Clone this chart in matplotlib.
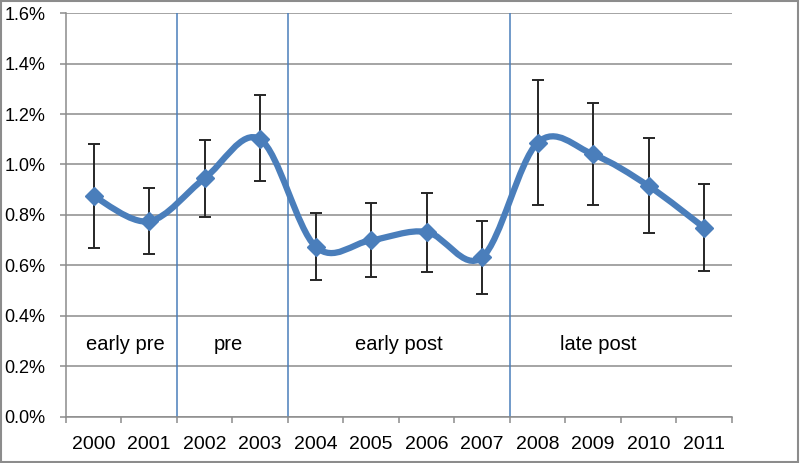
import matplotlib as mpl
mpl.use('Agg')
import matplotlib.pyplot as plt
import numpy as np
from matplotlib.path import Path
from matplotlib.patches import PathPatch, Rectangle
from matplotlib.ticker import FuncFormatter, MultipleLocator

years = ['2000', '2001', '2002', '2003', '2004', '2005',
         '2006', '2007', '2008', '2009', '2010', '2011']
rate = [0.875, 0.775, 0.945, 1.100, 0.675, 0.700,
        0.733, 0.632, 1.086, 1.040, 0.915, 0.750]
err_hi = [1.083, 0.908, 1.098, 1.275, 0.808, 0.846,
          0.888, 0.775, 1.335, 1.242, 1.104, 0.924]
err_lo = [0.668, 0.644, 0.791, 0.933, 0.544, 0.554,
          0.574, 0.489, 0.838, 0.841, 0.727, 0.578]
periods = ['early pre', 'pre', 'early post', 'late post']
period_breaks = [1.5, 3.5, 7.5]

plt.rcParams['font.family'] = ['Liberation Sans', 'DejaVu Sans']

blue = '#4a7ebb'
x = np.arange(len(years))
y = np.array(rate)

fig = plt.figure(figsize=(8, 4.63), dpi=100)
ax = fig.add_axes([0.0822, 0.0994, 0.8326, 0.8725])

# grid
ax.set_ylim(0, 1.6)
ax.set_xlim(-0.5, len(years) - 0.5)
ax.yaxis.set_major_locator(MultipleLocator(0.2))
ax.yaxis.set_major_formatter(FuncFormatter(lambda v, p: '%.1f%%' % v))
ax.grid(axis='y', color='#8c8c8c', lw=1.1)
ax.set_axisbelow(True)

for b in period_breaks:
    ax.axvline(b, color=blue, lw=1.1, zorder=1)

# smoothed line, Excel-style bezier
pts = np.column_stack([x, y])
verts = [pts[0]]
codes = [Path.MOVETO]
n = len(pts)
for i in range(n - 1):
    p0 = pts[i - 1] if i > 0 else pts[i]
    p1 = pts[i]
    p2 = pts[i + 1]
    p3 = pts[i + 2] if i + 2 < n else pts[i + 1]
    c1 = p1 + (p2 - p0) / 6.0
    c2 = p2 - (p3 - p1) / 6.0
    verts += [c1, c2, p2]
    codes += [Path.CURVE4] * 3
ax.add_patch(PathPatch(Path(verts, codes), fill=False, edgecolor=blue,
                       lw=4.5, capstyle='round', joinstyle='round', zorder=3))

lo = y - np.array(err_lo)
hi = np.array(err_hi) - y
ax.errorbar(x, y, yerr=[lo, hi], fmt='none', ecolor='#262626', elinewidth=1.4,
            capsize=4.5, capthick=1.4, zorder=4)
ax.plot(x, y, linestyle='', marker='D', ms=9.5, color=blue, zorder=5)

label_x = [0.58, 2.42, 5.5, 9.1]
for lx, t in zip(label_x, periods):
    ax.text(lx, 0.265, t, ha='center', va='baseline', fontsize=14.5, color='black')

# axes styling
for s in ['top', 'right']:
    ax.spines[s].set_visible(False)
ax.spines['left'].set_color('#8c8c8c')
ax.spines['bottom'].set_color('#8c8c8c')
ax.spines['left'].set_linewidth(1.1)
ax.spines['bottom'].set_linewidth(1.1)

ax.set_xticks(np.arange(len(years) + 1) - 0.5)
ax.set_xticklabels([])
ax.set_xticks(x, minor=True)
ax.set_xticklabels(years, minor=True)
ax.tick_params(axis='x', which='major', length=4, color='#8c8c8c', width=1.1)
ax.tick_params(axis='x', which='minor', length=0, pad=14, labelsize=14)
ax.tick_params(axis='y', length=4.5, color='#8c8c8c', width=1.1, pad=10, labelsize=13)

fig.patches.append(Rectangle((0.001, 0.002), 0.997, 0.996, transform=fig.transFigure,
                             fill=False, edgecolor='#8c8c8c', lw=1.5))

fig.savefig('out.png', dpi=100)
